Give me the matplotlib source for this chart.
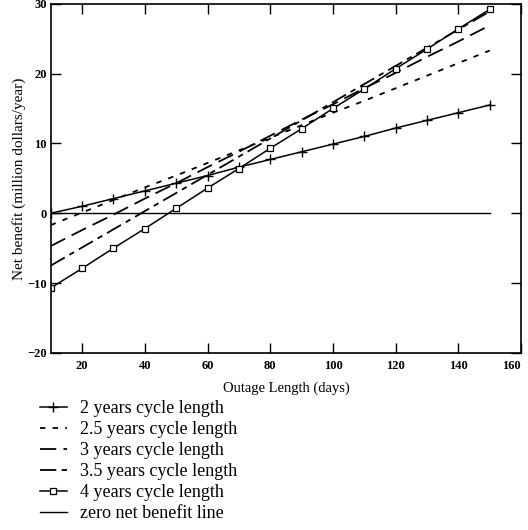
import matplotlib.pyplot as plt
import numpy as np

# outage length (days)
outage = [10, 20, 30, 40, 50, 60, 70, 80, 90, 100, 110, 120, 130, 140, 150]

# net benefit (million dollars/year)
ben_2 = [0.0, 1.0, 2.1, 3.2, 4.3, 5.4, 6.6, 7.7, 8.8, 9.9, 11.0, 12.2, 13.3, 14.4, 15.5]
ben_25 = [-1.7, 0.1, 1.9, 3.7, 5.4, 7.2, 9.0, 10.8, 12.6, 14.4, 16.1, 17.9, 19.7, 21.5, 23.3]
ben_3 = [-4.7, -2.4, -0.2, 2.1, 4.3, 6.6, 8.8, 11.1, 13.4, 15.6, 17.9, 20.1, 22.4, 24.6, 26.9]
ben_35 = [-7.5, -4.9, -2.3, 0.3, 2.9, 5.5, 8.1, 10.7, 13.3, 15.9, 18.5, 21.1, 23.7, 26.3, 28.9]
ben_4 = [-10.7, -7.9, -5.0, -2.2, 0.7, 3.6, 6.4, 9.3, 12.1, 15.0, 17.8, 20.7, 23.5, 26.4, 29.2]
zero_line = [0.0] * len(outage)

plt.rcParams['font.family'] = ['Liberation Serif', 'DejaVu Serif']

fig = plt.figure(figsize=(5.28, 5.30), dpi=100)
ax = fig.add_axes([0.096, 0.334, 0.891, 0.659])

ax.plot(outage, ben_2, color='black', lw=1.1, marker='+', ms=7, mew=1.0,
        label='2 years cycle length')
ax.plot(outage, ben_25, color='black', lw=1.3, linestyle=(0, (3, 4)),
        label='2.5 years cycle length')
ax.plot(outage, ben_3, color='black', lw=1.3, linestyle=(0, (9, 4)),
        label='3 years cycle length')
ax.plot(outage, ben_35, color='black', lw=1.3, linestyle=(0, (9, 3, 3, 3)),
        label='3.5 years cycle length')
ax.plot(outage, ben_4, color='black', lw=1.1, marker='s', ms=4, mfc='white',
        mew=0.9, label='4 years cycle length')
ax.plot(outage, zero_line, color='black', lw=1.0, label='zero net benefit line')

ax.set_xlim(10, 160)
ax.set_ylim(-20, 30)
ax.set_xticks([20, 40, 60, 80, 100, 120, 140, 160])
ax.set_yticks([-20, -10, 0, 10, 20, 30])
ax.tick_params(direction='in', length=7, width=1.0, top=True, right=True,
               labelsize=9, pad=5)
ax.tick_params(axis='y', pad=3)
for lab in ax.get_xticklabels() + ax.get_yticklabels():
    lab.set_fontweight('bold')
# keep the last x label inside the figure
ax.get_xticklabels()[-1].set_horizontalalignment('right')
for s in ax.spines.values():
    s.set_linewidth(1.2)

ax.set_xlabel('Outage Length (days)', fontsize=10.5, labelpad=7)
ax.set_ylabel('Net benefit (million dollars/year)', fontsize=11, labelpad=1)

fig.legend(loc='upper left', bbox_to_anchor=(0.075, 0.245), frameon=False,
           fontsize=13, handlelength=1.5, handletextpad=0.75, labelspacing=0.22,
           borderpad=0, borderaxespad=0)

fig.savefig('out.png', dpi=100)
